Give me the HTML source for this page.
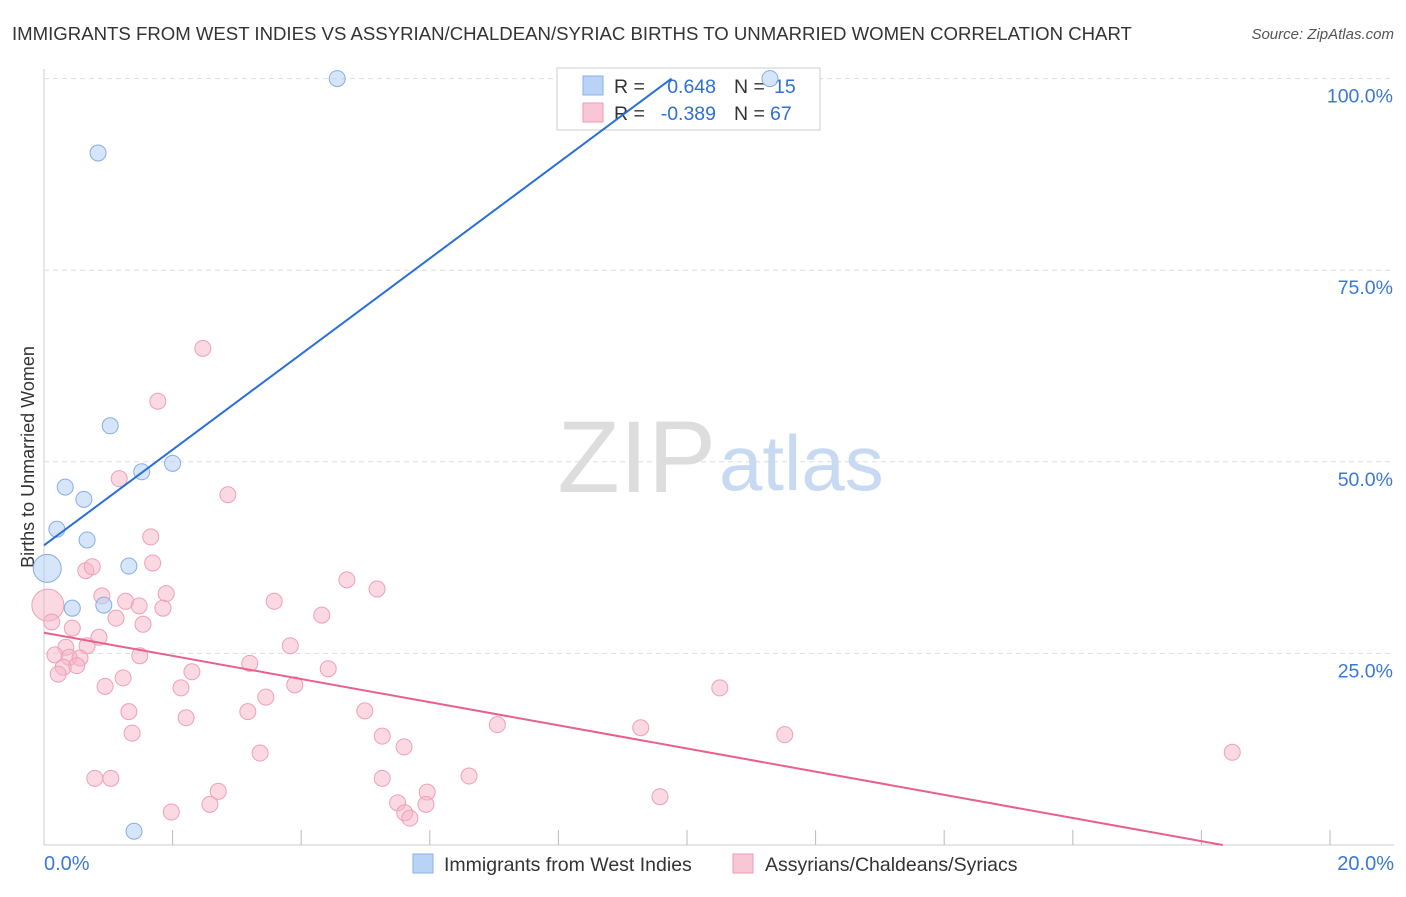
<!DOCTYPE html>
<html><head><meta charset="utf-8"><style>
body{margin:0;background:#fff;font-family:"Liberation Sans",sans-serif;}
svg text{font-family:"Liberation Sans",sans-serif;}
</style></head><body>
<svg id="chart" width="1406" height="892">
<text x="12" y="40" font-size="18.6" fill="#333">IMMIGRANTS FROM WEST INDIES VS ASSYRIAN/CHALDEAN/SYRIAC BIRTHS TO UNMARRIED WOMEN CORRELATION CHART</text>
<text x="1394" y="39" font-size="15" fill="#555" font-style="italic" text-anchor="end">Source: ZipAtlas.com</text>
<text x="34" y="457" font-size="18" fill="#333" transform="rotate(-90 34 457)" text-anchor="middle">Births to Unmarried Women</text>
<g id="grid"></g>
<text x="716" y="492" font-size="102" fill="#ddd" font-family="Liberation Serif" text-anchor="end">ZIP</text>
<text x="719" y="490" font-size="78" fill="#c8daf2">atlas</text>
<g>
<rect x="557" y="68" width="263" height="62" fill="#fff" stroke="#ccc"/>
<rect x="583" y="76" width="20" height="19" fill="#b8d3f5" stroke="#8ab0e6"/>
<rect x="583" y="103" width="20" height="19" fill="#f9c6d5" stroke="#ee9ab3"/>
<text x="614" y="93" font-size="19.5" fill="#333">R =</text>
<text x="716" y="93" font-size="19.5" fill="#2f6fd6" text-anchor="end">0.648</text>
<text x="734" y="93" font-size="19.5" fill="#333">N =</text>
<text x="774" y="93" font-size="19.5" fill="#2f6fd6">15</text>
<text x="614" y="120" font-size="19.5" fill="#333">R =</text>
<text x="716" y="120" font-size="19.5" fill="#2f6fd6" text-anchor="end">-0.389</text>
<text x="734" y="120" font-size="19.5" fill="#333">N =</text>
<text x="770" y="120" font-size="19.5" fill="#2f6fd6">67</text>
</g>
<g id="pts"></g>
<g id="lines"></g>
<g>
<rect x="413" y="854" width="20" height="19" fill="#b8d3f5" stroke="#8ab0e6"/>
<text x="444" y="871" font-size="19.5" fill="#333">Immigrants from West Indies</text>
<rect x="733" y="854" width="20" height="19" fill="#f9c6d5" stroke="#ee9ab3"/>
<text x="765" y="871" font-size="19.5" fill="#333">Assyrians/Chaldeans/Syriacs</text>
</g>
<text x="44" y="870" font-size="20" fill="#3a78d8">0.0%</text>
<text x="1394" y="870" font-size="20" fill="#3a78d8" text-anchor="end">20.0%</text>
</svg>
<script>
const yTicks=[100,75,50,25];
const yTickLabels=["100.0%","75.0%","50.0%","25.0%"];
const blueX=[4.56,11.29,0.84,1.03,2.0,1.52,0.33,0.62,0.2,0.67,0.05,1.32,0.44,0.93,1.4];
const blueY=[100,100,90.3,54.7,49.8,48.7,46.7,45.1,41.2,39.8,36.1,36.4,30.9,31.3,1.8];
const pinkX=[2.47,1.77,1.17,2.86,1.66,1.69,0.65,0.75,4.71,5.18,1.9,0.9,1.27,3.58,0.06,1.48,1.85,4.32,1.12,0.12,1.54,0.44,0.855,0.34,0.67,3.83,0.17,0.39,0.56,1.49,3.2,0.3,0.51,4.42,0.22,2.3,1.23,2.13,0.95,3.9,10.51,3.45,1.32,3.17,4.99,2.21,7.05,9.28,1.37,5.26,11.52,5.6,3.36,18.48,0.79,1.04,5.26,6.61,2.71,5.96,2.58,5.5,5.94,9.58,1.98,5.61,5.69];
const pinkY=[64.8,57.9,47.8,45.7,40.2,36.8,35.8,36.3,34.6,33.4,32.8,32.5,31.8,31.8,31.3,31.2,30.9,30.0,29.6,29.1,28.8,28.3,27.1,25.8,26.0,26.0,24.8,24.5,24.4,24.7,23.7,23.2,23.4,23.0,22.3,22.6,21.8,20.5,20.7,20.9,20.5,19.3,17.4,17.4,17.5,16.6,15.7,15.3,14.6,14.2,14.4,12.8,12.0,12.1,8.7,8.7,8.7,9.0,7.0,6.9,5.3,5.5,5.3,6.3,4.3,4.2,3.5];
const blueFit=[39.1,6.24];
const pinkFit=[27.7,-1.511];
const NS="http://www.w3.org/2000/svg";
const X=v=>44+v*64.3, Y=v=>845-v*7.664;
function mk(t,a,p){const e=document.createElementNS(NS,t);for(const k in a)e.setAttribute(k,a[k]);p.appendChild(e);return e;}
const grid=document.getElementById('grid');
mk('line',{x1:44,y1:69,x2:44,y2:845,stroke:'#ccc'},grid);
mk('line',{x1:44,y1:845,x2:1394,y2:845,stroke:'#ccc'},grid);
for(let i=1;i<=10;i++){const l=mk('line',{x1:X(i*2),y1:830,x2:X(i*2),y2:845,stroke:'#bbb'},grid);

}
yTicks.forEach((t,i)=>{const g=mk('line',{x1:44,y1:Y(t),x2:1394,y2:Y(t),stroke:'#ddd','stroke-dasharray':'5,4'},grid);


const tx=mk('text',{x:1393,y:Y(t)+24,'font-size':19.5,fill:'#3a78d8','text-anchor':'end'},grid);tx.textContent=yTickLabels[i];

});
const pts=document.getElementById('pts');
pinkX.forEach((x,i)=>{const c=mk('circle',{cx:X(x),cy:Y(pinkY[i]),r:i==14?16:8,fill:'rgba(246,180,200,0.5)',stroke:'#eea0b8'},pts);

});
blueX.forEach((x,i)=>{const c=mk('circle',{cx:X(x),cy:Y(blueY[i]),r:i==10?14:8,fill:'rgba(180,208,245,0.55)',stroke:'#86aee4'},pts);

});
const ln=document.getElementById('lines');
const bx2=(100-blueFit[0])/blueFit[1];
const bl=mk('line',{x1:X(0),y1:Y(blueFit[0]),x2:X(bx2),y2:Y(100),stroke:'#2a6fd8','stroke-width':2},ln);


const px2=-pinkFit[0]/pinkFit[1];
const pl=mk('line',{x1:X(0),y1:Y(pinkFit[0]),x2:X(px2),y2:Y(0),stroke:'#e8608e','stroke-width':2},ln);


</script>
</body></html>
